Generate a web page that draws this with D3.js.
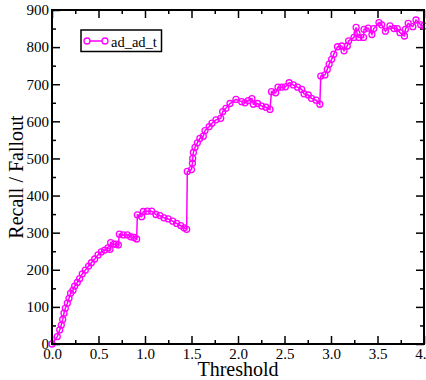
<!DOCTYPE html>
<html>
<head>
<meta charset="utf-8">
<script src="https://cdn.jsdelivr.net/npm/d3@7"></script>
<style>
html,body{margin:0;padding:0;background:#fff;overflow:hidden;}
svg{display:block;}
svg text{font-family:"Liberation Serif","Times New Roman",serif !important;fill:#000;}
</style>
</head>
<body>
<script>
const seriesName = "ad_ad_t";
const thresholds = [0,0.057,0.083,0.1,0.115,0.129,0.143,0.165,0.183,0.2,0.226,0.244,0.272,0.297,0.326,0.358,0.394,0.423,0.459,0.495,0.53,0.566,0.602,0.624,0.631,0.667,0.69,0.713,0.724,0.767,0.81,0.846,0.882,0.91,0.918,0.964,0.982,1.025,1.072,1.118,1.161,1.204,1.25,1.298,1.34,1.384,1.42,1.448,1.455,1.5,1.51,1.513,1.52,1.538,1.563,1.59,1.627,1.645,1.69,1.72,1.763,1.814,1.835,1.87,1.914,1.978,2.04,2.075,2.11,2.15,2.165,2.21,2.255,2.3,2.344,2.36,2.405,2.43,2.47,2.51,2.55,2.595,2.64,2.685,2.71,2.756,2.79,2.84,2.88,2.89,2.935,2.96,2.98,3.007,3.03,3.07,3.115,3.14,3.175,3.19,3.247,3.27,3.28,3.3,3.35,3.355,3.4,3.44,3.46,3.516,3.545,3.585,3.634,3.677,3.713,3.742,3.79,3.8,3.83,3.88,3.914,3.965,4.0];
const values = [0,20,38,51,66,83,96,110,123,137,145,156,166,176,189,199,210,219,229,240,248,253,259,255,273,269,269,267,296,294,294,289,287,283,348,343,357,358,358,349,346,340,337,331,325,319,313,309,465,470,487,500,516,530,542,554,560,575,586,595,604,608,626,635,648,659,653,650,656,661,646,648,641,638,632,680,677,692,692,693,704,698,692,686,674,671,662,657,646,722,725,740,754,767,781,801,803,790,803,817,826,853,837,826,826,848,851,834,850,866,860,843,857,850,850,839,830,848,864,855,873,860,857];
const xTicks = [0,0.5,1,1.5,2,2.5,3,3.5,4];
const xTickLabels = ["0.0","0.5","1.0","1.5","2.0","2.5","3.0","3.5","4.0"];
const yTicks = [0,100,200,300,400,500,600,700,800,900];
const xMinor = [0.25,0.75,1.25,1.75,2.25,2.75,3.25,3.75];
const yMinor = [50,150,250,350,450,550,650,750,850];

const W = 426, H = 380;
const L = 52, T = 10, R = 424, B = 344;
const color = "#ff00ff";
const serif = '"Liberation Serif","Times New Roman",serif';

const svg = d3.select("body").append("svg").attr("width", W).attr("height", H)
  .attr("font-family", serif);
const x = d3.scaleLinear().domain([0,4]).range([L,R]);
const y = d3.scaleLinear().domain([0,900]).range([B,T]);

function styleAxis(g){
  g.attr("font-family", serif).attr("font-size", 15);
  g.select(".domain").remove();
  g.selectAll(".tick line").attr("stroke","#000").attr("stroke-width",1.5);
  g.selectAll("text").attr("font-family", serif).attr("font-size", 15);
}

// major ticks
svg.append("g").attr("transform",`translate(0,${B})`)
  .call(d3.axisBottom(x).tickValues(xTicks).tickSize(-8).tickPadding(4).tickFormat((d,i)=>xTickLabels[i]))
  .call(styleAxis);
svg.append("g").attr("transform",`translate(${L},0)`)
  .call(d3.axisLeft(y).tickValues(yTicks).tickSize(-8).tickPadding(3).tickFormat(d3.format("d")))
  .call(styleAxis);
svg.append("g").attr("transform",`translate(0,${T})`)
  .call(d3.axisTop(x).tickValues(xTicks).tickSize(-8).tickFormat(""))
  .call(styleAxis);
svg.append("g").attr("transform",`translate(${R},0)`)
  .call(d3.axisRight(y).tickValues(yTicks).tickSize(-8).tickFormat(""))
  .call(styleAxis);
// minor ticks
svg.append("g").attr("transform",`translate(0,${B})`)
  .call(d3.axisBottom(x).tickValues(xMinor).tickSize(-4).tickFormat("")).call(styleAxis);
svg.append("g").attr("transform",`translate(0,${T})`)
  .call(d3.axisTop(x).tickValues(xMinor).tickSize(-4).tickFormat("")).call(styleAxis);
svg.append("g").attr("transform",`translate(${L},0)`)
  .call(d3.axisLeft(y).tickValues(yMinor).tickSize(-4).tickFormat("")).call(styleAxis);
svg.append("g").attr("transform",`translate(${R},0)`)
  .call(d3.axisRight(y).tickValues(yMinor).tickSize(-4).tickFormat("")).call(styleAxis);

// data
const data = thresholds.map((t,i)=>({t, v: values[i]}));
svg.append("path").datum(data)
  .attr("fill","none").attr("stroke",color).attr("stroke-width",1.5)
  .attr("d", d3.line().x(d=>x(d.t)).y(d=>y(d.v)));
svg.append("g").selectAll("circle").data(data).join("circle")
  .attr("cx",d=>x(d.t)).attr("cy",d=>y(d.v)).attr("r",3)
  .attr("fill","none").attr("stroke",color).attr("stroke-width",1.3);

// frame
svg.append("rect").attr("x",L).attr("y",T).attr("width",R-L).attr("height",B-T)
  .attr("fill","none").attr("stroke","#000").attr("stroke-width",2);

// legend
const lg = svg.append("g");
lg.append("rect").attr("x",81).attr("y",30).attr("width",80.5).attr("height",21.5)
  .attr("fill","#fff").attr("stroke","#000").attr("stroke-width",1.5);
lg.append("line").attr("x1",87).attr("x2",105).attr("y1",41).attr("y2",41)
  .attr("stroke",color).attr("stroke-width",1.5);
[87,105].forEach(cx=>lg.append("circle").attr("cx",cx).attr("cy",41).attr("r",3)
  .attr("fill","#fff").attr("stroke",color).attr("stroke-width",1.3));
lg.append("text").attr("x",111).attr("y",46.5).attr("font-size",14.5).text(seriesName);

// axis titles
svg.append("text").attr("x",(L+R)/2).attr("y",376).attr("text-anchor","middle")
  .attr("font-size",20).text("Threshold");
svg.append("text").attr("transform",`translate(23,${(T+B)/2}) rotate(-90)`).attr("text-anchor","middle")
  .attr("font-size",20).text("Recall / Fallout");
</script>
</body>
</html>
